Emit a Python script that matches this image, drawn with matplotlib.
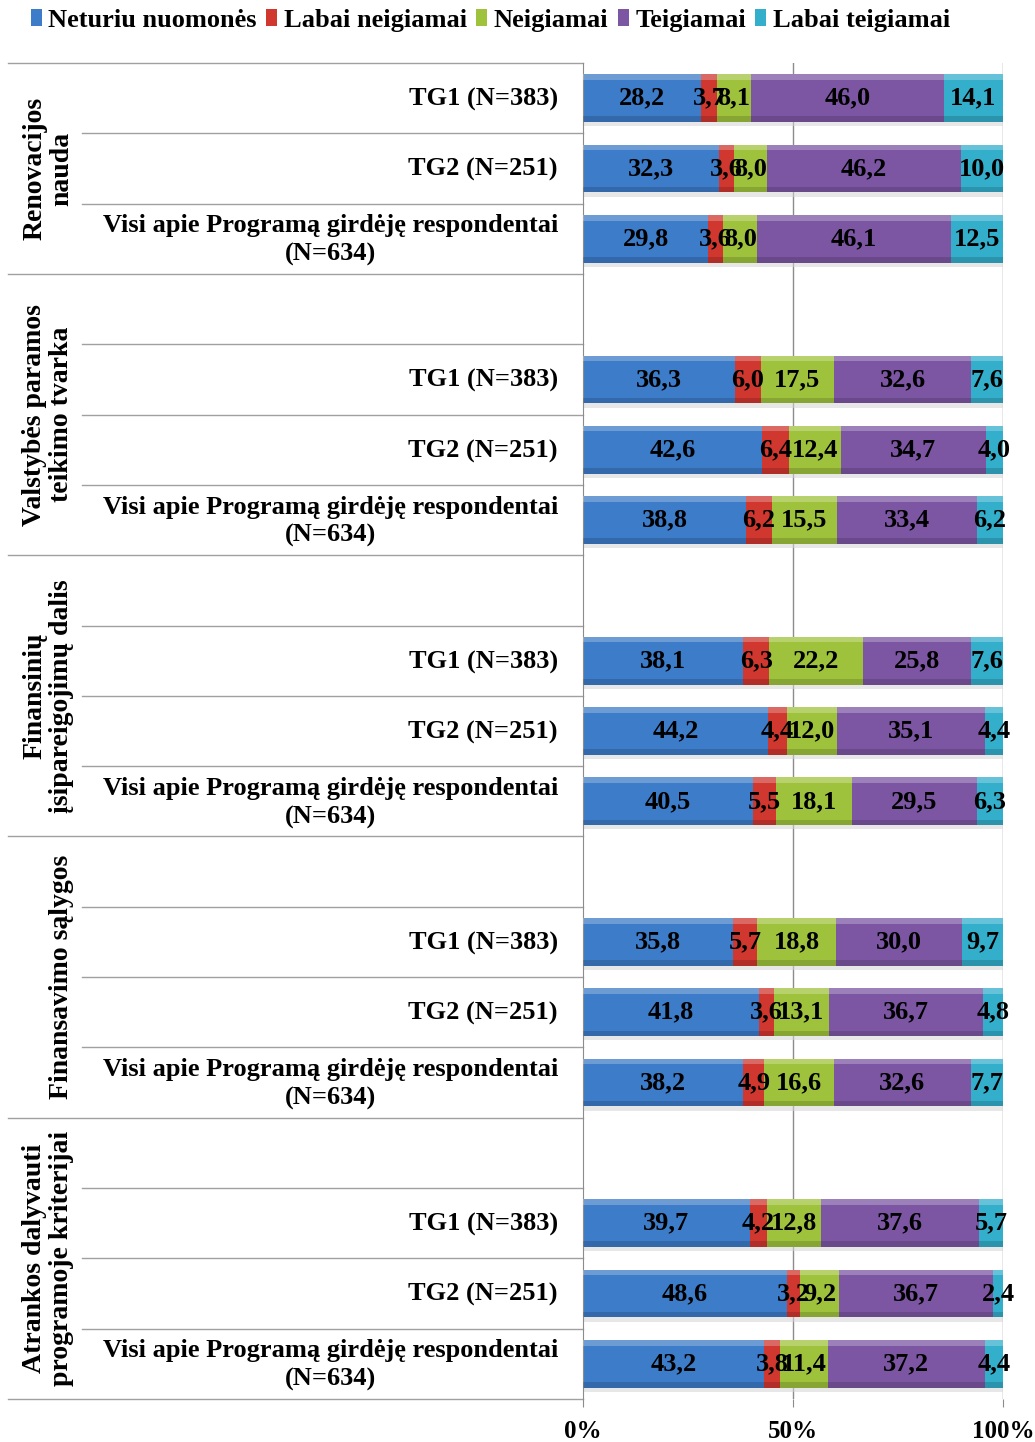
import numpy as np
import matplotlib.pyplot as plt
from matplotlib.patches import Patch

plt.rcParams['font.family'] = ['Liberation Serif', 'DejaVu Serif']
plt.rcParams['font.weight'] = 'bold'

series = ["Neturiu nuomonės", "Labai neigiamai", "Neigiamai", "Teigiamai", "Labai teigiamai"]
colors = ["#3d7cc8", "#d0372f", "#9fc23c", "#7c56a3", "#33aecb"]

groups = ["Renovacijos\nnauda",
          "Valstybės paramos\nteikimo tvarka",
          "Finansinių\nįsipareigojimų dalis",
          "Finansavimo sąlygos",
          "Atrankos dalyvauti\nprogramoje kriterijai"]
respondents = ["TG1 (N=383)", "TG2 (N=251)",
               "Visi apie Programą girdėję respondentai\n(N=634)"]

# 15 rows: 5 groups x (TG1, TG2, Visi)
neturiu = [28.2, 32.3, 29.8, 36.3, 42.6, 38.8, 38.1, 44.2, 40.5, 35.8, 41.8, 38.2, 39.7, 48.6, 43.2]
labai_neig = [3.7, 3.6, 3.6, 6.0, 6.4, 6.2, 6.3, 4.4, 5.5, 5.7, 3.6, 4.9, 4.2, 3.2, 3.8]
neig = [8.1, 8.0, 8.0, 17.5, 12.4, 15.5, 22.2, 12.0, 18.1, 18.8, 13.1, 16.6, 12.8, 9.2, 11.4]
teig = [46.0, 46.2, 46.1, 32.6, 34.7, 33.4, 25.8, 35.1, 29.5, 30.0, 36.7, 32.6, 37.6, 36.7, 37.2]
labai_teig = [14.1, 10.0, 12.5, 7.6, 4.0, 6.2, 7.6, 4.4, 6.3, 9.7, 4.8, 7.7, 5.7, 2.4, 4.4]

vals = np.array([neturiu, labai_neig, neig, teig, labai_teig])
shares = vals / vals.sum(axis=0) * 100  # 100% stacked

# row positions: first group has no blank row, the others start with one
ypos = []
row = 0
for g in range(len(groups)):
    if g > 0:
        row += 1
    for r in range(3):
        ypos.append(row + 0.5)
        row += 1
ypos = np.array(ypos)
nrows = row

W, H = 1035, 1442
fig = plt.figure(figsize=(W / 100, H / 100), dpi=100)
x0, x1, ytop, ybot = 583, 1003, 63, 1399
ax = fig.add_axes([x0 / W, 1 - ybot / H, (x1 - x0) / W, (ybot - ytop) / H])
ax.set_xlim(0, 100)
ax.set_ylim(nrows, 0)

bh = 0.68
# soft shadow under the bars
ax.barh(ypos + 0.06, 100, height=bh, color="#d4d4d4", alpha=0.55, zorder=1)

left = np.zeros(len(ypos))
for i in range(len(series)):
    w = shares[i]
    ax.barh(ypos, w, left=left, height=bh, color=colors[i], edgecolor="none", zorder=2)
    # bevel look
    ax.barh(ypos - bh / 2 + 0.04, w, left=left, height=0.08, color="white", alpha=0.25,
            edgecolor="none", zorder=3)
    ax.barh(ypos + bh / 2 - 0.04, w, left=left, height=0.08, color="black", alpha=0.15,
            edgecolor="none", zorder=3)
    for j in range(len(ypos)):
        ax.text(left[j] + w[j] / 2, ypos[j], f"{vals[i][j]:.1f}".replace(".", ","),
                ha="center", va="center", fontsize=19, fontweight="bold", zorder=5)
    left = left + w

for gx in [50, 100]:
    ax.axvline(gx, color="#8c8c8c", lw=1, zorder=0)

for s in ["top", "right", "bottom"]:
    ax.spines[s].set_visible(False)
ax.spines["left"].set_color("#8c8c8c")
ax.set_xticks([0, 50, 100])
ax.set_xticklabels(["0%", "50%", "100%"], fontsize=18, fontweight="bold")
ax.tick_params(axis="x", length=6, color="#8c8c8c", pad=9)
ax.set_yticks([])

# label table on the left
tr = ax.get_yaxis_transform()
xa = lambda px: (px - x0) / (x1 - x0)
group_bounds = [0]
for g in range(1, len(groups)):
    group_bounds.append(3 + 4 * (g - 1))
group_bounds.append(nrows)
for b in range(nrows + 1):
    start = 8 if b in group_bounds else 82
    ax.plot([xa(start), 0], [b, b], transform=tr, color="#a0a0a0", lw=1, clip_on=False)

for j, y in enumerate(ypos):
    ax.text(xa(558), y + 0.02, respondents[j % 3], transform=tr, ha="right", va="center",
            multialignment="center", fontsize=19, fontweight="bold", linespacing=1.3)

for g in range(len(groups)):
    gc = (group_bounds[g] + group_bounds[g + 1]) / 2
    ax.text(xa(74), gc, groups[g], transform=tr, rotation=90, ha="right", va="center",
            multialignment="center", fontsize=20, fontweight="bold", linespacing=1.1)

handles = [Patch(facecolor=c, edgecolor="none") for c in colors]
fig.legend(handles, series, ncol=5, loc="upper left", bbox_to_anchor=(20 / W, 1 + 2 / H),
           frameon=False, fontsize=19, handlelength=0.42, handleheight=0.6,
           handletextpad=0.25, columnspacing=0.35, borderaxespad=0)

plt.savefig("out.png", dpi=100)
